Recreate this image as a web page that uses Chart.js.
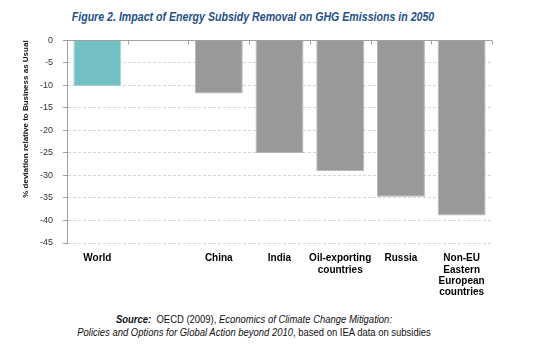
<!DOCTYPE html>
<html>
<head>
<meta charset="utf-8">
<script src="https://cdn.jsdelivr.net/npm/chart.js@4"></script>
<style>
body{margin:0;background:#fff;width:541px;height:353px;position:relative;overflow:hidden;font-family:"Liberation Sans",Arial,sans-serif}
#title{position:absolute;top:9px;left:0;width:506px;text-align:center;font-weight:bold;font-style:italic;font-size:13px;color:#24508a;white-space:nowrap;transform:scaleX(0.816)}
#wrap{position:absolute;left:0;top:25px;width:541px;height:277px}
#source{position:absolute;top:313px;left:0;width:508px;text-align:center;font-size:11px;line-height:13px;color:#111;white-space:nowrap;transform:scaleX(0.86)}
</style>
</head>
<body>
<div id="title">Figure 2. Impact of Energy Subsidy Removal on GHG Emissions in 2050</div>
<div id="wrap"><canvas id="ghgChart"></canvas></div>
<div id="source"><b><i>Source:</i></b>&nbsp; OECD (2009), <i>Economics of Climate Change Mitigation:</i><br><i>Policies and Options for Global Action beyond 2010</i>, based on IEA data on subsidies</div>
<script>
// categories (the second slot is empty in the original figure)
const labels = ['World', '', 'China', 'India', ['Oil-exporting', 'countries'], 'Russia', ['Non-EU', 'Eastern', 'European', 'countries']];
const deviation = [-10.2, null, -11.8, -25, -29, -34.7, -38.9];
const barColors = ['#72bfc4', '#999999', '#999999', '#999999', '#999999', '#999999', '#999999'];
const edgeColors = ['#a3d6d9', '#b5b5b5', '#b5b5b5', '#b5b5b5', '#b5b5b5', '#b5b5b5', '#b5b5b5'];

// solid axis line at 0 with small category tick marks
const zeroLine = {
  id: 'zeroLine',
  afterDatasetsDraw(chart) {
    const {ctx, chartArea: a, scales: {x, y}} = chart;
    const y0 = Math.round(y.getPixelForValue(0)) + 0.5;
    const step = x.getPixelForValue(1) - x.getPixelForValue(0);
    ctx.save();
    ctx.strokeStyle = '#a0a0a0';
    ctx.lineWidth = 1;
    ctx.beginPath();
    ctx.moveTo(a.left, y0);
    ctx.lineTo(a.right, y0);
    for (let i = 0; i < labels.length; i++) {
      const px = Math.round(x.getPixelForValue(i) + step / 2) + 0.5;
      ctx.moveTo(px, y0);
      ctx.lineTo(px, y0 + 4);
    }
    ctx.stroke();
    ctx.restore();
  }
};

new Chart(document.getElementById('ghgChart'), {
  type: 'bar',
  data: {
    labels: labels,
    datasets: [{
      data: deviation,
      backgroundColor: barColors,
      borderColor: edgeColors,
      borderWidth: 1,
      barPercentage: 0.79,
      categoryPercentage: 1
    }]
  },
  options: {
    responsive: true,
    maintainAspectRatio: false,
    animation: false,
    layout: {padding: {left: 0, right: 49, top: 5, bottom: 0}},
    plugins: {legend: {display: false}, tooltip: {enabled: false}},
    scales: {
      x: {
        grid: {display: false},
        border: {display: false},
        ticks: {
          color: '#000',
          padding: 2,
          maxRotation: 0,
          autoSkip: false,
          font: {family: 'Liberation Sans', size: 10, weight: 'bold', lineHeight: 1.12}
        },
        afterFit(s) { s.height = 59; }
      },
      y: {
        min: -45,
        max: 0,
        ticks: {
          stepSize: 5,
          color: '#333',
          padding: 10,
          font: {family: 'Liberation Sans', size: 9}
        },
        grid: {
          color: ctx => ctx.tick && ctx.tick.value === 0 ? 'rgba(0,0,0,0)' : '#d6d6d6',
          tickColor: '#a0a0a0',
          tickLength: 4,
          tickBorderDash: []
        },
        border: {display: true, color: '#a0a0a0', dash: [3, 2]},
        title: {
          display: true,
          text: '% deviation relative to Business as Usual',
          align: 'end',
          color: '#111',
          padding: {top: 21, bottom: 0},
          font: {family: 'Liberation Sans', size: 8, weight: 'bold'}
        },
        afterFit(s) { s.width = 67; }
      }
    }
  },
  plugins: [zeroLine]
});
</script>
</body>
</html>
